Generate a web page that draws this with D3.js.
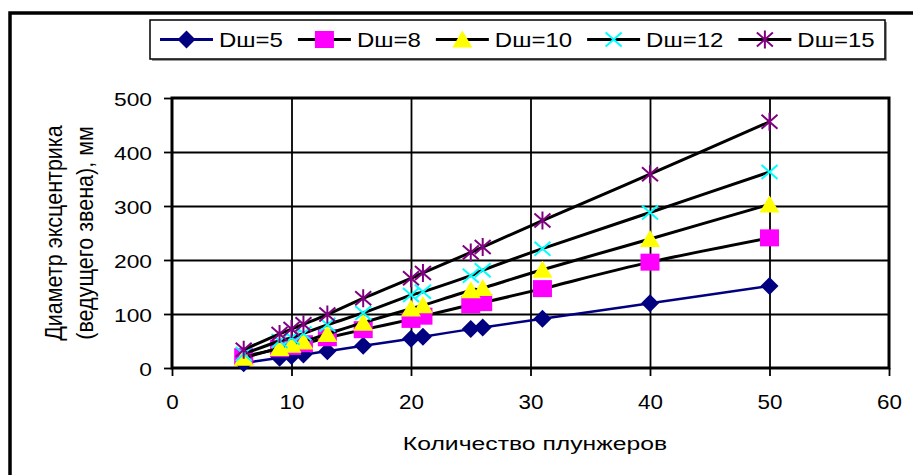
<!DOCTYPE html>
<html><head><meta charset="utf-8">
<script src="https://cdn.jsdelivr.net/npm/d3@7"></script>
<style>
body{margin:0;background:#fff}
svg{display:block}
text{font-family:"Liberation Sans",Arial,sans-serif;fill:#000}
</style>
</head><body>
<svg id="c" width="913" height="475"></svg>
<script>
// ---- data ----
const plungers = [6, 9, 10, 11, 13, 16, 20, 21, 25, 26, 31, 40, 50];
const d5  = [9, 19, 22, 25, 31, 41, 54, 58, 72, 75, 91, 120, 152];
const d8  = [21, 36, 40, 45, 56, 71, 90, 96, 117, 121, 147, 196, 241];
const d10 = [19, 37, 43, 49, 63, 84, 110, 116, 144, 148, 182, 239, 303];
const d12 = [26, 50, 56, 64, 80, 102, 135, 141, 171, 181, 221, 288, 363];
const d15 = [34, 63, 72, 81, 99, 129, 166, 176, 214, 224, 273, 359, 456];
const seriesNames = ["Dш=5", "Dш=8", "Dш=10", "Dш=12", "Dш=15"];
const xTicks = [0, 10, 20, 30, 40, 50, 60];
const yTicks = [0, 100, 200, 300, 400, 500];
const xTitle = "Количество плунжеров";
const yTitle = ["Диаметр эксцентрика", "(ведущего звена), мм"];

// ---- styles ----
const styles = [
  {line: "#000080", lw: 2.5, marker: "diamond", fill: "#000080"},
  {line: "#000000", lw: 3, marker: "square", fill: "#FF00FF"},
  {line: "#000000", lw: 3, marker: "triangle", fill: "#FFFF00"},
  {line: "#000000", lw: 3, marker: "x", fill: "#00FFFF"},
  {line: "#000000", lw: 3, marker: "star", fill: "#800080"}
];
const allSeries = [d5, d8, d10, d12, d15];

const svg = d3.select("#c");
const L = 172, R = 889, T = 98, B = 368;
const x = d3.scaleLinear([0, 60], [L, R]);
const y = d3.scaleLinear([0, 500], [B, T]);

// outer chart frame (cropped at right & bottom)
svg.append("rect").attr("x", 10).attr("y", 13).attr("width", 960).attr("height", 520)
  .attr("fill", "#fff").attr("stroke", "#000").attr("stroke-width", 3.5);

// gridlines
svg.append("g").attr("transform", `translate(0,${B})`)
  .call(d3.axisBottom(x).tickValues(xTicks.slice(1, -1)).tickSize(-(B - T)).tickFormat(""))
  .call(g => g.select(".domain").remove())
  .call(g => g.selectAll("line").attr("stroke", "#000").attr("stroke-width", 1.8));
svg.append("g").attr("transform", `translate(${L},0)`)
  .call(d3.axisLeft(y).tickValues(yTicks.slice(1, -1)).tickSize(-(R - L)).tickFormat(""))
  .call(g => g.select(".domain").remove())
  .call(g => g.selectAll("line").attr("stroke", "#000").attr("stroke-width", 1.8));

// x axis
const sxX = 1.12;
svg.append("g").attr("transform", `translate(0,${B})`)
  .call(d3.axisBottom(x).tickValues(xTicks).tickSize(8))
  .call(g => g.select(".domain").remove())
  .call(g => g.selectAll("line").attr("stroke", "#000").attr("stroke-width", 1.8))
  .call(g => g.selectAll("text").attr("font-size", 20).attr("font-family", "Liberation Sans, Arial, sans-serif")
    .attr("y", 0).attr("dy", 0)
    .attr("transform", `translate(0,41) scale(${sxX},1)`));

// y axis
const sxY = 1.2;
svg.append("g").attr("transform", `translate(${L},0)`)
  .call(d3.axisLeft(y).tickValues(yTicks).tickSize(8))
  .call(g => g.select(".domain").remove())
  .call(g => g.selectAll("line").attr("stroke", "#000").attr("stroke-width", 1.8))
  .call(g => g.selectAll("text").attr("font-size", 19).attr("font-family", "Liberation Sans, Arial, sans-serif")
    .attr("x", 0).attr("dy", 0)
    .attr("transform", `translate(-20,7) scale(${sxY},1)`));

// plot frame
svg.append("rect").attr("x", L).attr("y", T).attr("width", R - L).attr("height", B - T)
  .attr("fill", "none").attr("stroke", "#000").attr("stroke-width", 3);

// titles
svg.append("text").attr("text-anchor", "middle").attr("font-size", 18.6)
  .attr("transform", "translate(535,450) scale(1.33,1)").text(xTitle);
yTitle.forEach((t, i) => {
  svg.append("text").attr("text-anchor", "middle").attr("font-size", 18.4)
    .attr("transform", `translate(${62 + i * 31},233) rotate(-90) scale(1.17,1.3)`).text(t);
});

// marker drawing
function drawMarker(g, type, color) {
  if (type === "diamond") {
    g.append("path").attr("d", "M0,-9L9,0L0,9L-9,0Z").attr("fill", color);
  } else if (type === "square") {
    g.append("rect").attr("x", -9.5).attr("y", -8.5).attr("width", 19).attr("height", 17).attr("fill", color);
  } else if (type === "triangle") {
    g.append("path").attr("d", "M0,-9L10,8L-10,8Z").attr("fill", color);
  } else if (type === "x") {
    g.append("path").attr("d", "M-8,-7L8,7M-8,7L8,-7").attr("stroke", color).attr("stroke-width", 2).attr("fill", "none");
  } else if (type === "star") {
    g.append("path").attr("d", "M-8,-7L8,7M-8,7L8,-7M0,-9L0,9").attr("stroke", color).attr("stroke-width", 2).attr("fill", "none");
  }
}

const line = d3.line().x(d => x(d[0])).y(d => y(d[1])).curve(d3.curveCardinal.tension(0));
allSeries.forEach((vals, si) => {
  const st = styles[si];
  const pts = plungers.map((p, i) => [p, vals[i]]);
  const g = svg.append("g");
  g.append("path").attr("d", line(pts)).attr("fill", "none").attr("stroke", st.line).attr("stroke-width", st.lw);
  pts.forEach(p => {
    const m = g.append("g").attr("transform", `translate(${x(p[0])},${y(p[1])})`);
    drawMarker(m, st.marker, st.fill);
  });
});

// legend
const leg = svg.append("g");
leg.append("rect").attr("x", 152).attr("y", 22).attr("width", 735).attr("height", 39).attr("fill", "#999");
leg.append("rect").attr("x", 150).attr("y", 20).attr("width", 735).attr("height", 39)
  .attr("fill", "#fff").attr("stroke", "#000").attr("stroke-width", 1.5);
let cx = 160;
const ly = 39.5;
seriesNames.forEach((name, si) => {
  const st = styles[si];
  leg.append("line").attr("x1", cx).attr("x2", cx + 53).attr("y1", ly).attr("y2", ly)
    .attr("stroke", st.line).attr("stroke-width", 3);
  const m = leg.append("g").attr("transform", `translate(${cx + 26.5},${ly})`);
  drawMarker(m, st.marker, st.fill);
  const t = leg.append("text").attr("font-size", 20).attr("transform", `translate(${cx + 59},${ly + 7}) scale(1.2,1)`).text(name);
  const w = t.node().getComputedTextLength() * 1.2;
  cx += 53 + 6 + w + 15;
});
</script>
</body></html>
